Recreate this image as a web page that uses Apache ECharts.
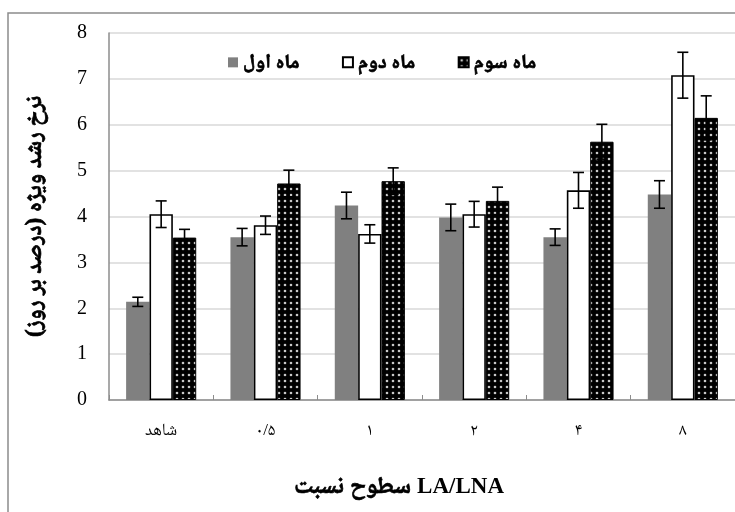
<!DOCTYPE html>
<html>
<head>
<meta charset="utf-8">
<script src="https://cdn.jsdelivr.net/npm/echarts@6/dist/echarts.min.js"></script>
<style>html,body{margin:0;padding:0;background:#fff}#c{width:735px;height:512px}</style>
</head>
<body>
<div id="c"></div>
<script>
const categories = ['شاهد', '۰/۵', '۱', '۲', '۴', '۸'];
const seriesNames = ['ماه اول', 'ماه دوم', 'ماه سوم'];
const month1 = [2.14, 3.55, 4.24, 3.98, 3.55, 4.48];
const month1Err = [0.10, 0.19, 0.29, 0.29, 0.18, 0.30];
const month2 = [4.05, 3.81, 3.62, 4.05, 4.57, 7.08];
const month2Err = [0.29, 0.20, 0.20, 0.28, 0.39, 0.50];
const month3 = [3.54, 4.72, 4.77, 4.34, 5.63, 6.15];
const month3Err = [0.18, 0.29, 0.29, 0.30, 0.38, 0.48];
const yTicks = [0, 1, 2, 3, 4, 5, 6, 7, 8];
const yTitle = 'نرخ رشد ویژه (درصد بر روز)';
const xTitlePersian = 'سطوح نسبت';
const xTitleLatin = 'LA/LNA';

const BAR_RATIO = 0.224;
const serif = '"Liberation Serif", "Noto Naskh Arabic", "Noto Sans Arabic", "DejaVu Sans", serif';

// dotted pattern
const pc = document.createElement('canvas');
pc.width = 6; pc.height = 6;
const pctx = pc.getContext('2d');
pctx.fillStyle = '#000'; pctx.fillRect(0, 0, 6, 6);
pctx.fillStyle = '#c8c8c8';
pctx.beginPath(); pctx.arc(3, 3, 1.3, 0, Math.PI * 2); pctx.fill();

const chart = echarts.init(document.getElementById('c'));

function errSeries(vals, errs, offset) {
  return {
    type: 'custom',
    name: 'err' + offset,
    z: 10,
    silent: true,
    encode: { x: 0, y: 1 },
    data: vals.map((v, i) => [i, v, errs[i]]),
    renderItem: function (params, api) {
      const idx = api.value(0), v = api.value(1), e = api.value(2);
      const c = api.coord([idx, v]);
      const bw = api.size([1, 0])[0] * BAR_RATIO;
      const x = c[0] + offset * bw;
      const top = api.coord([idx, v + e])[1];
      const bot = api.coord([idx, v - e])[1];
      const hw = 5.5;
      const st = { stroke: '#000', lineWidth: 1.6 };
      return {
        type: 'group',
        children: [
          { type: 'line', shape: { x1: x, y1: top, x2: x, y2: bot }, style: st },
          { type: 'line', shape: { x1: x - hw, y1: top, x2: x + hw, y2: top }, style: st },
          { type: 'line', shape: { x1: x - hw, y1: bot, x2: x + hw, y2: bot }, style: st }
        ]
      };
    }
  };
}

const boldFake = { textBorderColor: '#000', textBorderWidth: 0.7 };

chart.setOption({
  animation: false,
  backgroundColor: '#fff',
  grid: { left: 109, right: -4, top: 33, bottom: 112, containLabel: false },
  legend: {
    data: seriesNames,
    left: 223, top: 47,
    itemWidth: 10, itemHeight: 10, itemGap: 42,
    icon: 'rect',
    textStyle: Object.assign({ fontFamily: serif, fontWeight: 'bold', fontSize: 20, color: '#000' }, boldFake)
  },
  xAxis: {
    type: 'category',
    data: categories,
    axisLine: { lineStyle: { color: '#8c8c8c', width: 1.5 } },
    axisTick: { show: true, inside: true, length: 5, lineStyle: { color: '#8c8c8c' } },
    axisLabel: { margin: 22, fontFamily: serif, fontSize: 17, color: '#000' }
  },
  yAxis: {
    type: 'value',
    min: 0, max: 8, interval: 1,
    name: yTitle,
    nameLocation: 'middle',
    nameGap: 62,
    nameTextStyle: Object.assign({ fontFamily: serif, fontWeight: 'bold', fontSize: 23, color: '#000' }, boldFake),
    axisLine: { show: true, lineStyle: { color: '#8c8c8c', width: 1.5 } },
    axisTick: { show: false },
    axisLabel: {
      margin: 22, fontFamily: serif, fontSize: 20, color: '#000',
      formatter: function (v) { return yTicks.indexOf(v) >= 0 ? String(v) : ''; }
    },
    splitLine: { lineStyle: { color: '#d9d9d9', width: 1.5 } }
  },
  graphic: [
    { type: 'rect', shape: { x: 8, y: 13, width: 900, height: 700 }, style: { fill: 'none', stroke: '#8c8c8c', lineWidth: 1.5 }, z: 100 },
    { type: 'text', x: 399, y: 487,
      style: {
        text: '{p|' + xTitlePersian + '}{s| }{l|' + xTitleLatin + '}',
        align: 'center', verticalAlign: 'middle',
        rich: {
          p: { fontFamily: serif, fontWeight: 'bold', fontSize: 24, fill: '#000', stroke: '#000', lineWidth: 0.7 },
          s: { fontFamily: serif, fontSize: 24, fill: '#000', width: 6 },
          l: { fontFamily: serif, fontWeight: 'bold', fontSize: 23, fill: '#000' }
        }
      } }
  ],
  series: [
    { type: 'bar', name: seriesNames[0], data: month1, barWidth: (BAR_RATIO * 100) + '%', barGap: '0%',
      itemStyle: { color: '#808080' } },
    { type: 'bar', name: seriesNames[1], data: month2, barWidth: (BAR_RATIO * 100) + '%', barGap: '0%',
      itemStyle: { color: '#ffffff', borderColor: '#000', borderWidth: 1.6 } },
    { type: 'bar', name: seriesNames[2], data: month3, barWidth: (BAR_RATIO * 100) + '%', barGap: '0%',
      itemStyle: { color: { image: pc, repeat: 'repeat' }, borderColor: '#000', borderWidth: 1 } },
    errSeries(month1, month1Err, -1),
    errSeries(month2, month2Err, 0),
    errSeries(month3, month3Err, 1)
  ]
});
</script>
</body>
</html>
